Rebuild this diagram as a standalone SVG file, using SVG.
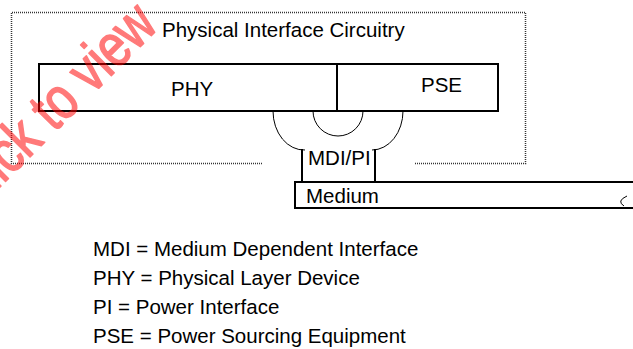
<svg xmlns="http://www.w3.org/2000/svg" width="633" height="349" viewBox="0 0 633 349">
<style>
text{font-family:"Liberation Sans",Arial,sans-serif;font-size:20.5px;fill:#000}
.box{fill:none;stroke:#000;stroke-width:2}
.thin{fill:none;stroke:#000;stroke-width:1}
.dot{fill:none;stroke:#333;stroke-width:1.5;stroke-dasharray:1 1}
.wm{font-size:60px;fill:#ff0000;stroke:#ff0000;stroke-width:1.6;stroke-linejoin:round}
</style>
<rect width="633" height="349" fill="#fff"/>
<g id="physical-interface-circuitry">
<path class="dot" d="M262,163.5 H11.5 V12.5 H525.5 V163.5 H415"/>
<text x="162" y="37">Physical Interface Circuitry</text>
</g>
<g id="phy">
<rect class="box" x="39" y="64" width="298" height="47"/>
<text x="171" y="96">PHY</text>
</g>
<g id="pse">
<rect class="box" x="337" y="64" width="161" height="47"/>
<text x="421" y="92">PSE</text>
</g>
<g id="connectors">
<path class="thin" d="M273,111 A31,39 0 0 0 305,150"/>
<path class="thin" d="M403,111 A31,39 0 0 1 372,150"/>
<path class="thin" d="M313,111 A25,25 0 0 0 363,111"/>
</g>
<g id="mdi-pi">
<path class="box" d="M302,149 V182 M375,149 V182"/>
<text x="308" y="164.5">MDI/PI</text>
</g>
<g id="medium">
<rect class="box" x="295" y="182" width="360" height="26"/>
<path class="thin" d="M627,196 Q616,201 624,206"/>
<text x="306" y="202.5">Medium</text>
</g>
<g id="legend">
<text x="93" y="256">MDI = Medium Dependent Interface</text>
<text x="93" y="284.5">PHY = Physical Layer Device</text>
<text x="93" y="313.5">PI = Power Interface</text>
<text x="93" y="342.5">PSE = Power Sourcing Equipment</text>
</g>
<g id="watermark" opacity="0.52">
<text class="wm" transform="translate(-28.7,215.7) rotate(-45) scale(0.8,1)">Click to view</text>
</g>
</svg>
